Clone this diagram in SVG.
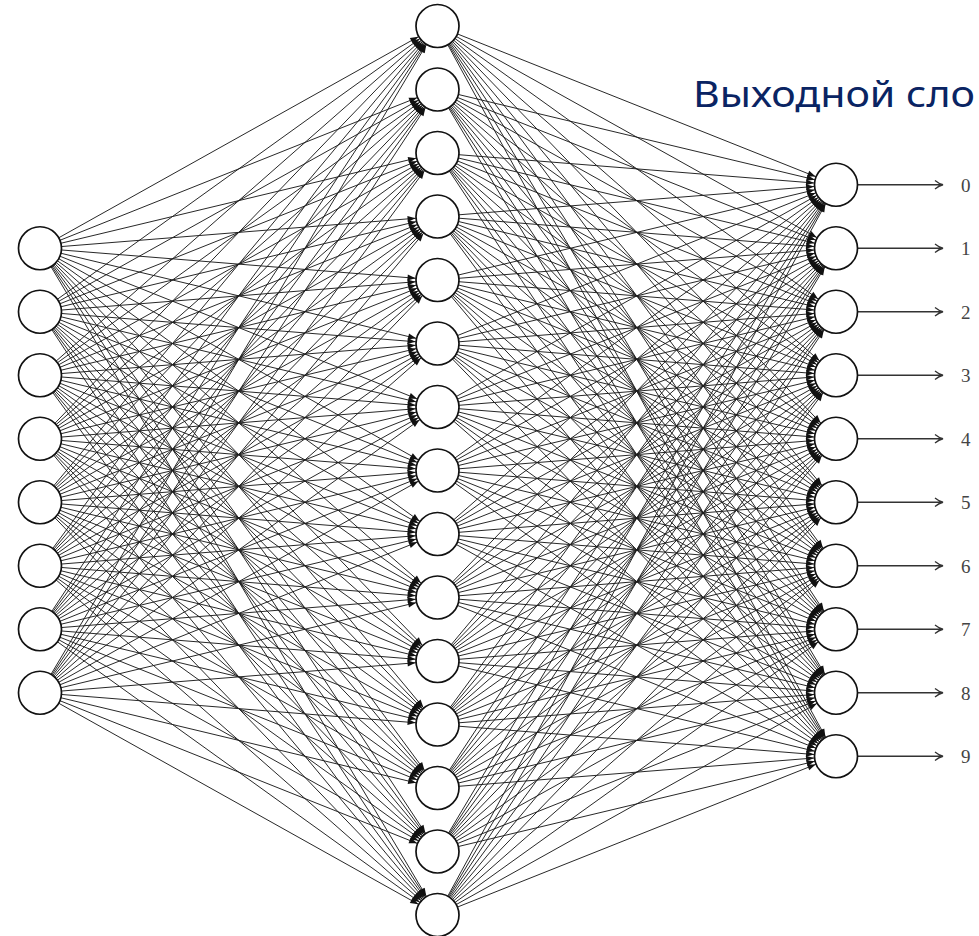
<svg xmlns="http://www.w3.org/2000/svg" width="979" height="936" viewBox="0 0 979 936">
<style>
.e{fill:none;stroke:#1c1c1c;stroke-width:0.95;marker-end:url(#ah)}
.n{fill:#fff;stroke:#111;stroke-width:1.7}
.o{fill:none;stroke:#333;stroke-width:1.3}
.lbl{font-family:"Liberation Serif","DejaVu Serif",serif;font-size:19px;fill:#444}
.title{font-family:"Noto Sans","Open Sans",sans-serif;font-size:37px;fill:#0a2463}
</style>
<defs>
<marker id="ah" markerUnits="userSpaceOnUse" markerWidth="40" markerHeight="10" refX="32" refY="5" orient="auto" overflow="visible">
<path d="M2,2 L10,5 L2,8 z" fill="#111"/>
</marker>
</defs>
<rect width="979" height="936" fill="#fff"/>
<g id="connectors">
<path class="e" d="M40 248.25L437.5 26"/><path class="e" d="M40 248.25L437.5 89.5"/><path class="e" d="M40 248.25L437.5 153"/><path class="e" d="M40 248.25L437.5 216.5"/><path class="e" d="M40 248.25L437.5 280"/><path class="e" d="M40 248.25L437.5 343.5"/><path class="e" d="M40 248.25L437.5 407"/><path class="e" d="M40 248.25L437.5 470.5"/><path class="e" d="M40 248.25L437.5 534"/><path class="e" d="M40 248.25L437.5 597.5"/><path class="e" d="M40 248.25L437.5 661"/><path class="e" d="M40 248.25L437.5 724.5"/><path class="e" d="M40 248.25L437.5 788"/><path class="e" d="M40 248.25L437.5 851.5"/><path class="e" d="M40 248.25L437.5 915"/>
<path class="e" d="M40 311.75L437.5 26"/><path class="e" d="M40 311.75L437.5 89.5"/><path class="e" d="M40 311.75L437.5 153"/><path class="e" d="M40 311.75L437.5 216.5"/><path class="e" d="M40 311.75L437.5 280"/><path class="e" d="M40 311.75L437.5 343.5"/><path class="e" d="M40 311.75L437.5 407"/><path class="e" d="M40 311.75L437.5 470.5"/><path class="e" d="M40 311.75L437.5 534"/><path class="e" d="M40 311.75L437.5 597.5"/><path class="e" d="M40 311.75L437.5 661"/><path class="e" d="M40 311.75L437.5 724.5"/><path class="e" d="M40 311.75L437.5 788"/><path class="e" d="M40 311.75L437.5 851.5"/><path class="e" d="M40 311.75L437.5 915"/>
<path class="e" d="M40 375.25L437.5 26"/><path class="e" d="M40 375.25L437.5 89.5"/><path class="e" d="M40 375.25L437.5 153"/><path class="e" d="M40 375.25L437.5 216.5"/><path class="e" d="M40 375.25L437.5 280"/><path class="e" d="M40 375.25L437.5 343.5"/><path class="e" d="M40 375.25L437.5 407"/><path class="e" d="M40 375.25L437.5 470.5"/><path class="e" d="M40 375.25L437.5 534"/><path class="e" d="M40 375.25L437.5 597.5"/><path class="e" d="M40 375.25L437.5 661"/><path class="e" d="M40 375.25L437.5 724.5"/><path class="e" d="M40 375.25L437.5 788"/><path class="e" d="M40 375.25L437.5 851.5"/><path class="e" d="M40 375.25L437.5 915"/>
<path class="e" d="M40 438.75L437.5 26"/><path class="e" d="M40 438.75L437.5 89.5"/><path class="e" d="M40 438.75L437.5 153"/><path class="e" d="M40 438.75L437.5 216.5"/><path class="e" d="M40 438.75L437.5 280"/><path class="e" d="M40 438.75L437.5 343.5"/><path class="e" d="M40 438.75L437.5 407"/><path class="e" d="M40 438.75L437.5 470.5"/><path class="e" d="M40 438.75L437.5 534"/><path class="e" d="M40 438.75L437.5 597.5"/><path class="e" d="M40 438.75L437.5 661"/><path class="e" d="M40 438.75L437.5 724.5"/><path class="e" d="M40 438.75L437.5 788"/><path class="e" d="M40 438.75L437.5 851.5"/><path class="e" d="M40 438.75L437.5 915"/>
<path class="e" d="M40 502.25L437.5 26"/><path class="e" d="M40 502.25L437.5 89.5"/><path class="e" d="M40 502.25L437.5 153"/><path class="e" d="M40 502.25L437.5 216.5"/><path class="e" d="M40 502.25L437.5 280"/><path class="e" d="M40 502.25L437.5 343.5"/><path class="e" d="M40 502.25L437.5 407"/><path class="e" d="M40 502.25L437.5 470.5"/><path class="e" d="M40 502.25L437.5 534"/><path class="e" d="M40 502.25L437.5 597.5"/><path class="e" d="M40 502.25L437.5 661"/><path class="e" d="M40 502.25L437.5 724.5"/><path class="e" d="M40 502.25L437.5 788"/><path class="e" d="M40 502.25L437.5 851.5"/><path class="e" d="M40 502.25L437.5 915"/>
<path class="e" d="M40 565.75L437.5 26"/><path class="e" d="M40 565.75L437.5 89.5"/><path class="e" d="M40 565.75L437.5 153"/><path class="e" d="M40 565.75L437.5 216.5"/><path class="e" d="M40 565.75L437.5 280"/><path class="e" d="M40 565.75L437.5 343.5"/><path class="e" d="M40 565.75L437.5 407"/><path class="e" d="M40 565.75L437.5 470.5"/><path class="e" d="M40 565.75L437.5 534"/><path class="e" d="M40 565.75L437.5 597.5"/><path class="e" d="M40 565.75L437.5 661"/><path class="e" d="M40 565.75L437.5 724.5"/><path class="e" d="M40 565.75L437.5 788"/><path class="e" d="M40 565.75L437.5 851.5"/><path class="e" d="M40 565.75L437.5 915"/>
<path class="e" d="M40 629.25L437.5 26"/><path class="e" d="M40 629.25L437.5 89.5"/><path class="e" d="M40 629.25L437.5 153"/><path class="e" d="M40 629.25L437.5 216.5"/><path class="e" d="M40 629.25L437.5 280"/><path class="e" d="M40 629.25L437.5 343.5"/><path class="e" d="M40 629.25L437.5 407"/><path class="e" d="M40 629.25L437.5 470.5"/><path class="e" d="M40 629.25L437.5 534"/><path class="e" d="M40 629.25L437.5 597.5"/><path class="e" d="M40 629.25L437.5 661"/><path class="e" d="M40 629.25L437.5 724.5"/><path class="e" d="M40 629.25L437.5 788"/><path class="e" d="M40 629.25L437.5 851.5"/><path class="e" d="M40 629.25L437.5 915"/>
<path class="e" d="M40 692.75L437.5 26"/><path class="e" d="M40 692.75L437.5 89.5"/><path class="e" d="M40 692.75L437.5 153"/><path class="e" d="M40 692.75L437.5 216.5"/><path class="e" d="M40 692.75L437.5 280"/><path class="e" d="M40 692.75L437.5 343.5"/><path class="e" d="M40 692.75L437.5 407"/><path class="e" d="M40 692.75L437.5 470.5"/><path class="e" d="M40 692.75L437.5 534"/><path class="e" d="M40 692.75L437.5 597.5"/><path class="e" d="M40 692.75L437.5 661"/><path class="e" d="M40 692.75L437.5 724.5"/><path class="e" d="M40 692.75L437.5 788"/><path class="e" d="M40 692.75L437.5 851.5"/><path class="e" d="M40 692.75L437.5 915"/>
<path class="e" d="M437.5 26L836 184.75"/><path class="e" d="M437.5 26L836 248.25"/><path class="e" d="M437.5 26L836 311.75"/><path class="e" d="M437.5 26L836 375.25"/><path class="e" d="M437.5 26L836 438.75"/><path class="e" d="M437.5 26L836 502.25"/><path class="e" d="M437.5 26L836 565.75"/><path class="e" d="M437.5 26L836 629.25"/><path class="e" d="M437.5 26L836 692.75"/><path class="e" d="M437.5 26L836 756.25"/>
<path class="e" d="M437.5 89.5L836 184.75"/><path class="e" d="M437.5 89.5L836 248.25"/><path class="e" d="M437.5 89.5L836 311.75"/><path class="e" d="M437.5 89.5L836 375.25"/><path class="e" d="M437.5 89.5L836 438.75"/><path class="e" d="M437.5 89.5L836 502.25"/><path class="e" d="M437.5 89.5L836 565.75"/><path class="e" d="M437.5 89.5L836 629.25"/><path class="e" d="M437.5 89.5L836 692.75"/><path class="e" d="M437.5 89.5L836 756.25"/>
<path class="e" d="M437.5 153L836 184.75"/><path class="e" d="M437.5 153L836 248.25"/><path class="e" d="M437.5 153L836 311.75"/><path class="e" d="M437.5 153L836 375.25"/><path class="e" d="M437.5 153L836 438.75"/><path class="e" d="M437.5 153L836 502.25"/><path class="e" d="M437.5 153L836 565.75"/><path class="e" d="M437.5 153L836 629.25"/><path class="e" d="M437.5 153L836 692.75"/><path class="e" d="M437.5 153L836 756.25"/>
<path class="e" d="M437.5 216.5L836 184.75"/><path class="e" d="M437.5 216.5L836 248.25"/><path class="e" d="M437.5 216.5L836 311.75"/><path class="e" d="M437.5 216.5L836 375.25"/><path class="e" d="M437.5 216.5L836 438.75"/><path class="e" d="M437.5 216.5L836 502.25"/><path class="e" d="M437.5 216.5L836 565.75"/><path class="e" d="M437.5 216.5L836 629.25"/><path class="e" d="M437.5 216.5L836 692.75"/><path class="e" d="M437.5 216.5L836 756.25"/>
<path class="e" d="M437.5 280L836 184.75"/><path class="e" d="M437.5 280L836 248.25"/><path class="e" d="M437.5 280L836 311.75"/><path class="e" d="M437.5 280L836 375.25"/><path class="e" d="M437.5 280L836 438.75"/><path class="e" d="M437.5 280L836 502.25"/><path class="e" d="M437.5 280L836 565.75"/><path class="e" d="M437.5 280L836 629.25"/><path class="e" d="M437.5 280L836 692.75"/><path class="e" d="M437.5 280L836 756.25"/>
<path class="e" d="M437.5 343.5L836 184.75"/><path class="e" d="M437.5 343.5L836 248.25"/><path class="e" d="M437.5 343.5L836 311.75"/><path class="e" d="M437.5 343.5L836 375.25"/><path class="e" d="M437.5 343.5L836 438.75"/><path class="e" d="M437.5 343.5L836 502.25"/><path class="e" d="M437.5 343.5L836 565.75"/><path class="e" d="M437.5 343.5L836 629.25"/><path class="e" d="M437.5 343.5L836 692.75"/><path class="e" d="M437.5 343.5L836 756.25"/>
<path class="e" d="M437.5 407L836 184.75"/><path class="e" d="M437.5 407L836 248.25"/><path class="e" d="M437.5 407L836 311.75"/><path class="e" d="M437.5 407L836 375.25"/><path class="e" d="M437.5 407L836 438.75"/><path class="e" d="M437.5 407L836 502.25"/><path class="e" d="M437.5 407L836 565.75"/><path class="e" d="M437.5 407L836 629.25"/><path class="e" d="M437.5 407L836 692.75"/><path class="e" d="M437.5 407L836 756.25"/>
<path class="e" d="M437.5 470.5L836 184.75"/><path class="e" d="M437.5 470.5L836 248.25"/><path class="e" d="M437.5 470.5L836 311.75"/><path class="e" d="M437.5 470.5L836 375.25"/><path class="e" d="M437.5 470.5L836 438.75"/><path class="e" d="M437.5 470.5L836 502.25"/><path class="e" d="M437.5 470.5L836 565.75"/><path class="e" d="M437.5 470.5L836 629.25"/><path class="e" d="M437.5 470.5L836 692.75"/><path class="e" d="M437.5 470.5L836 756.25"/>
<path class="e" d="M437.5 534L836 184.75"/><path class="e" d="M437.5 534L836 248.25"/><path class="e" d="M437.5 534L836 311.75"/><path class="e" d="M437.5 534L836 375.25"/><path class="e" d="M437.5 534L836 438.75"/><path class="e" d="M437.5 534L836 502.25"/><path class="e" d="M437.5 534L836 565.75"/><path class="e" d="M437.5 534L836 629.25"/><path class="e" d="M437.5 534L836 692.75"/><path class="e" d="M437.5 534L836 756.25"/>
<path class="e" d="M437.5 597.5L836 184.75"/><path class="e" d="M437.5 597.5L836 248.25"/><path class="e" d="M437.5 597.5L836 311.75"/><path class="e" d="M437.5 597.5L836 375.25"/><path class="e" d="M437.5 597.5L836 438.75"/><path class="e" d="M437.5 597.5L836 502.25"/><path class="e" d="M437.5 597.5L836 565.75"/><path class="e" d="M437.5 597.5L836 629.25"/><path class="e" d="M437.5 597.5L836 692.75"/><path class="e" d="M437.5 597.5L836 756.25"/>
<path class="e" d="M437.5 661L836 184.75"/><path class="e" d="M437.5 661L836 248.25"/><path class="e" d="M437.5 661L836 311.75"/><path class="e" d="M437.5 661L836 375.25"/><path class="e" d="M437.5 661L836 438.75"/><path class="e" d="M437.5 661L836 502.25"/><path class="e" d="M437.5 661L836 565.75"/><path class="e" d="M437.5 661L836 629.25"/><path class="e" d="M437.5 661L836 692.75"/><path class="e" d="M437.5 661L836 756.25"/>
<path class="e" d="M437.5 724.5L836 184.75"/><path class="e" d="M437.5 724.5L836 248.25"/><path class="e" d="M437.5 724.5L836 311.75"/><path class="e" d="M437.5 724.5L836 375.25"/><path class="e" d="M437.5 724.5L836 438.75"/><path class="e" d="M437.5 724.5L836 502.25"/><path class="e" d="M437.5 724.5L836 565.75"/><path class="e" d="M437.5 724.5L836 629.25"/><path class="e" d="M437.5 724.5L836 692.75"/><path class="e" d="M437.5 724.5L836 756.25"/>
<path class="e" d="M437.5 788L836 184.75"/><path class="e" d="M437.5 788L836 248.25"/><path class="e" d="M437.5 788L836 311.75"/><path class="e" d="M437.5 788L836 375.25"/><path class="e" d="M437.5 788L836 438.75"/><path class="e" d="M437.5 788L836 502.25"/><path class="e" d="M437.5 788L836 565.75"/><path class="e" d="M437.5 788L836 629.25"/><path class="e" d="M437.5 788L836 692.75"/><path class="e" d="M437.5 788L836 756.25"/>
<path class="e" d="M437.5 851.5L836 184.75"/><path class="e" d="M437.5 851.5L836 248.25"/><path class="e" d="M437.5 851.5L836 311.75"/><path class="e" d="M437.5 851.5L836 375.25"/><path class="e" d="M437.5 851.5L836 438.75"/><path class="e" d="M437.5 851.5L836 502.25"/><path class="e" d="M437.5 851.5L836 565.75"/><path class="e" d="M437.5 851.5L836 629.25"/><path class="e" d="M437.5 851.5L836 692.75"/><path class="e" d="M437.5 851.5L836 756.25"/>
<path class="e" d="M437.5 915L836 184.75"/><path class="e" d="M437.5 915L836 248.25"/><path class="e" d="M437.5 915L836 311.75"/><path class="e" d="M437.5 915L836 375.25"/><path class="e" d="M437.5 915L836 438.75"/><path class="e" d="M437.5 915L836 502.25"/><path class="e" d="M437.5 915L836 565.75"/><path class="e" d="M437.5 915L836 629.25"/><path class="e" d="M437.5 915L836 692.75"/><path class="e" d="M437.5 915L836 756.25"/>
<g id="outputs">
<path class="o" d="M857.5 184.75H943M935 180.5Q939 183.8 943 184.75Q939 185.7 935 189"/>
<path class="o" d="M857.5 248.25H943M935 244Q939 247.3 943 248.25Q939 249.2 935 252.5"/>
<path class="o" d="M857.5 311.75H943M935 307.5Q939 310.8 943 311.75Q939 312.7 935 316"/>
<path class="o" d="M857.5 375.25H943M935 371Q939 374.3 943 375.25Q939 376.2 935 379.5"/>
<path class="o" d="M857.5 438.75H943M935 434.5Q939 437.8 943 438.75Q939 439.7 935 443"/>
<path class="o" d="M857.5 502.25H943M935 498Q939 501.3 943 502.25Q939 503.2 935 506.5"/>
<path class="o" d="M857.5 565.75H943M935 561.5Q939 564.8 943 565.75Q939 566.7 935 570"/>
<path class="o" d="M857.5 629.25H943M935 625Q939 628.3 943 629.25Q939 630.2 935 633.5"/>
<path class="o" d="M857.5 692.75H943M935 688.5Q939 691.8 943 692.75Q939 693.7 935 697"/>
<path class="o" d="M857.5 756.25H943M935 752Q939 755.3 943 756.25Q939 757.2 935 760.5"/>
</g>
</g>
<g id="input-layer">
<g id="in1"><circle class="n" cx="40" cy="248.25" r="21.5"/></g>
<g id="in2"><circle class="n" cx="40" cy="311.75" r="21.5"/></g>
<g id="in3"><circle class="n" cx="40" cy="375.25" r="21.5"/></g>
<g id="in4"><circle class="n" cx="40" cy="438.75" r="21.5"/></g>
<g id="in5"><circle class="n" cx="40" cy="502.25" r="21.5"/></g>
<g id="in6"><circle class="n" cx="40" cy="565.75" r="21.5"/></g>
<g id="in7"><circle class="n" cx="40" cy="629.25" r="21.5"/></g>
<g id="in8"><circle class="n" cx="40" cy="692.75" r="21.5"/></g>
</g>
<g id="hidden-layer">
<g id="h1"><circle class="n" cx="437.5" cy="26" r="21.5"/></g>
<g id="h2"><circle class="n" cx="437.5" cy="89.5" r="21.5"/></g>
<g id="h3"><circle class="n" cx="437.5" cy="153" r="21.5"/></g>
<g id="h4"><circle class="n" cx="437.5" cy="216.5" r="21.5"/></g>
<g id="h5"><circle class="n" cx="437.5" cy="280" r="21.5"/></g>
<g id="h6"><circle class="n" cx="437.5" cy="343.5" r="21.5"/></g>
<g id="h7"><circle class="n" cx="437.5" cy="407" r="21.5"/></g>
<g id="h8"><circle class="n" cx="437.5" cy="470.5" r="21.5"/></g>
<g id="h9"><circle class="n" cx="437.5" cy="534" r="21.5"/></g>
<g id="h10"><circle class="n" cx="437.5" cy="597.5" r="21.5"/></g>
<g id="h11"><circle class="n" cx="437.5" cy="661" r="21.5"/></g>
<g id="h12"><circle class="n" cx="437.5" cy="724.5" r="21.5"/></g>
<g id="h13"><circle class="n" cx="437.5" cy="788" r="21.5"/></g>
<g id="h14"><circle class="n" cx="437.5" cy="851.5" r="21.5"/></g>
<g id="h15"><circle class="n" cx="437.5" cy="915" r="21.5"/></g>
</g>
<g id="output-layer">
<g id="out0"><circle class="n" cx="836" cy="184.75" r="21.5"/><text class="lbl" x="961" y="191.5">0</text></g>
<g id="out1"><circle class="n" cx="836" cy="248.25" r="21.5"/><text class="lbl" x="961" y="255">1</text></g>
<g id="out2"><circle class="n" cx="836" cy="311.75" r="21.5"/><text class="lbl" x="961" y="318.5">2</text></g>
<g id="out3"><circle class="n" cx="836" cy="375.25" r="21.5"/><text class="lbl" x="961" y="382">3</text></g>
<g id="out4"><circle class="n" cx="836" cy="438.75" r="21.5"/><text class="lbl" x="961" y="445.5">4</text></g>
<g id="out5"><circle class="n" cx="836" cy="502.25" r="21.5"/><text class="lbl" x="961" y="509">5</text></g>
<g id="out6"><circle class="n" cx="836" cy="565.75" r="21.5"/><text class="lbl" x="961" y="572.5">6</text></g>
<g id="out7"><circle class="n" cx="836" cy="629.25" r="21.5"/><text class="lbl" x="961" y="636">7</text></g>
<g id="out8"><circle class="n" cx="836" cy="692.75" r="21.5"/><text class="lbl" x="961" y="699.5">8</text></g>
<g id="out9"><circle class="n" cx="836" cy="756.25" r="21.5"/><text class="lbl" x="961" y="763">9</text></g>
</g>
<g id="title"><text class="title" x="693" y="107" textLength="282" lengthAdjust="spacingAndGlyphs">Выходной сло</text></g>
</svg>
